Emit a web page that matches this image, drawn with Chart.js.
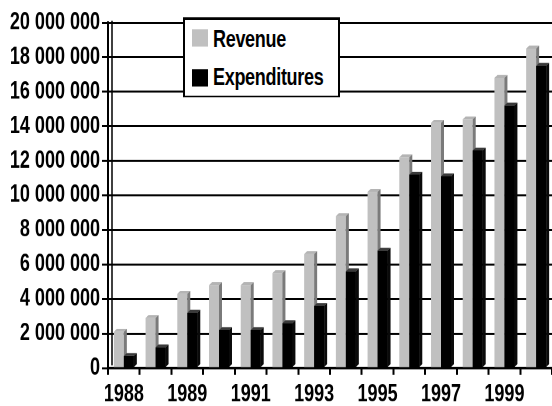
<!DOCTYPE html>
<html>
<head>
<meta charset="utf-8">
<script src="https://cdn.jsdelivr.net/npm/chart.js@4/dist/chart.umd.min.js"></script>
<style>
  html, body { margin: 0; padding: 0; background: #fff; }
  #stage { position: absolute; left: 0; top: 0; width: 552px; height: 305px;
           transform: scaleY(1.3311); transform-origin: 0 0; }
  #wrap { position: absolute; left: 0; top: 0; width: 552px; height: 305px; }
  #legend { position: absolute; left: 183px; top: 12.8px; width: 153px; height: 57px;
            border: 2px solid #000; border-width: 2px 2px 1.5px 2px; background: #fff;
            font: bold 18px "Liberation Sans", Arial, sans-serif; color: #000; }
  .sw { position: absolute; left: 7px; width: 16px; height: 13px; }
  .lt { position: absolute; left: 28px; line-height: 18px; letter-spacing: -0.3px; white-space: nowrap; }
</style>
</head>
<body>
<div id="stage">
  <div id="wrap"><canvas id="c"></canvas></div>
  <div id="legend"></div>
</div>
<script>
const categories = ['1988','1988-89','1989','1990','1991','1992','1993','1994','1995','1996','1997','1998','1999','2000'];
const shownTickLabels = ['1988','1989','1991','1993','1995','1997','1999'];
const revenue = [2100000, 2900000, 4300000, 4800000, 4800000, 5500000, 6600000, 8800000, 10200000, 12200000, 14200000, 14400000, 16800000, 18500000];
const expenditures = [700000, 1200000, 3200000, 2200000, 2200000, 2600000, 3600000, 5600000, 6800000, 11200000, 11100000, 12600000, 15200000, 17500000];
const seriesNames = ['Revenue', 'Expenditures'];
const yTicks = [0, 2000000, 4000000, 6000000, 8000000, 10000000, 12000000, 14000000, 16000000, 18000000, 20000000];

const FONT = { family: '"Liberation Sans", Arial, sans-serif', size: 18, weight: 'bold' };
const fmt = v => String(v).replace(/\B(?=(\d{3})+(?!\d))/g, ' ');

const faceColors = [
  { front: '#c0c0c0', top: '#b4b4b4', side: '#7a7a7a' },
  { front: '#000000', top: '#3a3a3a', side: '#0a0a0a' }
];

const depthPlugin = {
  id: 'depth3d',
  beforeDatasetsDraw(chart) {
    const { ctx, chartArea } = chart;
    ctx.save();
    ctx.strokeStyle = '#000';
    ctx.lineWidth = 1.5;
    ctx.beginPath();
    ctx.moveTo(chartArea.left + 4, chartArea.top - 1.5);
    ctx.lineTo(chartArea.left + 4, chartArea.bottom - 2);
    ctx.stroke();
    ctx.restore();
  },
  afterDatasetsDraw(chart) {
    const ctx = chart.ctx;
    const dx = 3, dy = 2.2;
    [0, 1].forEach(di => {
      const meta = chart.getDatasetMeta(di);
      const col = faceColors[di];
      ctx.save();
      meta.data.forEach(el => {
        if (di === 1) el.draw(ctx);
        const l = el.x - el.width / 2, r = el.x + el.width / 2, t = el.y, b = el.base;
        ctx.fillStyle = col.top;
        ctx.beginPath();
        ctx.moveTo(l, t); ctx.lineTo(l + dx, t - dy); ctx.lineTo(r + dx, t - dy); ctx.lineTo(r, t);
        ctx.closePath(); ctx.fill();
        ctx.fillStyle = col.side;
        ctx.beginPath();
        ctx.moveTo(r, t); ctx.lineTo(r + dx, t - dy); ctx.lineTo(r + dx, b - dy); ctx.lineTo(r, b);
        ctx.closePath(); ctx.fill();
      });
      ctx.restore();
    });
  }
};

const chart = new Chart(document.getElementById('c'), {
  type: 'bar',
  data: {
    labels: categories,
    datasets: [
      { label: seriesNames[0], data: revenue, backgroundColor: faceColors[0].front, borderWidth: 0 },
      { label: seriesNames[1], data: expenditures, backgroundColor: faceColors[1].front, borderWidth: 0 }
    ]
  },
  options: {
    responsive: true,
    maintainAspectRatio: false,
    animation: false,
    devicePixelRatio: 2,
    layout: { padding: { left: 0, right: 0, top: 17, bottom: 0 } },
    plugins: { legend: { display: false }, tooltip: { enabled: false } },
    datasets: { bar: { categoryPercentage: 0.63, barPercentage: 1.0 } },
    scales: {
      x: {
        grid: { display: true, drawOnChartArea: false, drawTicks: true, tickLength: 5, color: '#000', lineWidth: 2, offset: true },
        border: { display: true, color: '#000', width: 2 },
        ticks: {
          autoSkip: false, maxRotation: 0, minRotation: 0, padding: 4,
          color: '#000', font: FONT,
          callback: (v, i) => (shownTickLabels.includes(categories[i]) && i % 2 === 0) ? categories[i] : ''
        },
        afterFit: s => { s.height = 28.5; }
      },
      y: {
        min: 0, max: 20000000,
        afterBuildTicks: s => { s.ticks = yTicks.map(v => ({ value: v })); },
        grid: { color: '#000', lineWidth: 1.5, tickLength: 6, drawTicks: true },
        border: { display: true, color: '#000', width: 2 },
        ticks: { color: '#000', font: FONT, padding: 2, callback: v => fmt(v) },
        afterFit: s => { s.width = 108; }
      }
    }
  },
  plugins: [depthPlugin]
});

// legend built from the dataset labels and colours
const lg = document.getElementById('legend');
chart.data.datasets.forEach((ds, i) => {
  const sw = document.createElement('div');
  sw.className = 'sw';
  sw.style.top = (7.7 + i * 29.5) + 'px';
  sw.style.background = ds.backgroundColor;
  const tx = document.createElement('div');
  tx.className = 'lt';
  tx.style.top = (5 + i * 29.5) + 'px';
  tx.textContent = ds.label;
  lg.appendChild(sw); lg.appendChild(tx);
});
</script>
</body>
</html>
